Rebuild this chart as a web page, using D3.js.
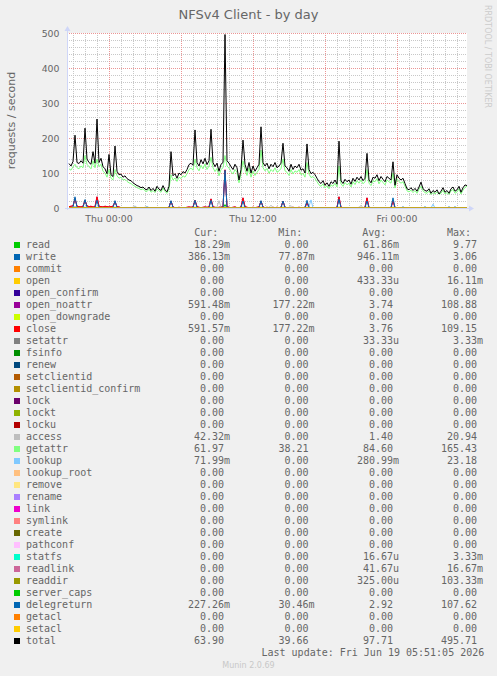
<!DOCTYPE html>
<html>
<head>
<meta charset="utf-8">
<script src="https://cdn.jsdelivr.net/npm/d3@7"></script>
<style>
  body { margin: 0; background: #f0f0f0; }
  svg { display: block; }
  text { font-family: "DejaVu Sans", sans-serif; fill: #666; }
  .mono { font-family: "DejaVu Sans Mono", monospace; font-size: 10px; }
</style>
</head>
<body>
<script>
// samples every 10 minutes, last one at Fri 05:50
const lastSample = new Date(2026, 5, 19, 5, 50);
const stepMinutes = 10;

const total = [
  127, 120, 133, 208, 130, 127, 135, 128, 228, 140, 130, 125, 161, 128, 254, 130, 142, 118, 112, 98,
  153, 95, 90, 177, 105, 95, 97, 88, 92, 84, 80, 78, 72, 68, 64, 62, 58, 60, 54, 52,
  60, 50, 56, 48, 62, 54, 50, 64, 52, 46, 62, 161, 92, 98, 85, 100, 95, 104, 100, 110,
  124, 128, 122, 223, 130, 120, 138, 126, 142, 124, 135, 225, 130, 118, 128, 105, 125, 130, 495.71, 135,
  128, 118, 110, 125, 115, 80, 110, 194, 125, 105, 130, 100, 120, 105, 115, 125, 232, 130, 120, 128,
  112, 125, 118, 130, 115, 120, 128, 185, 120, 115, 105, 125, 110, 120, 115, 125, 108, 112, 100, 183,
  110, 98, 102, 95, 85, 75, 70, 78, 65, 72, 62, 75, 70, 80, 68, 191, 78, 70, 82, 75,
  80, 68, 85, 76, 88, 80, 90, 78, 85, 156, 80, 72, 88, 85, 95, 78, 90, 82, 75, 90,
  85, 80, 132, 65, 95, 85, 80, 85, 70, 55, 52, 58, 50, 56, 48, 60, 74, 55, 50, 48,
  55, 42, 50, 45, 52, 40, 48, 58, 45, 50, 42, 55, 60, 48, 52, 62, 45, 58, 66, 63.9
];

const getattr = [
  112, 108, 118, 125, 115, 112, 120, 115, 150, 125, 118, 112, 135, 115, 140, 118, 125, 105, 100, 88,
  110, 85, 80, 110, 92, 85, 88, 80, 82, 76, 72, 70, 65, 62, 58, 56, 52, 55, 49, 47,
  54, 45, 50, 44, 55, 49, 45, 57, 47, 42, 55, 95, 80, 86, 76, 88, 84, 92, 88, 98,
  110, 114, 108, 140, 115, 106, 122, 112, 126, 110, 120, 145, 115, 104, 113, 92, 110, 115, 150, 120,
  114, 104, 97, 110, 102, 72, 98, 135, 110, 93, 115, 88, 106, 93, 102, 110, 165.43, 115, 106, 113,
  99, 110, 104, 115, 102, 106, 113, 140, 106, 102, 93, 110, 97, 106, 102, 110, 95, 99, 88, 130,
  97, 87, 90, 84, 75, 66, 62, 69, 57, 64, 55, 66, 62, 71, 60, 120, 69, 62, 73, 66,
  71, 60, 75, 67, 78, 71, 80, 69, 75, 110, 71, 64, 78, 75, 84, 69, 80, 73, 66, 80,
  75, 71, 100, 57, 84, 75, 71, 75, 62, 49, 46, 51, 44, 50, 42, 53, 62, 49, 44, 42,
  49, 38.21, 44, 40, 46, 39, 42, 51, 40, 44, 39, 49, 53, 42, 46, 55, 40, 51, 59, 61.97
];

const close = [
  4, 5, 6, 27, 5, 4, 3, 5, 22, 6, 4, 5, 3, 4, 32, 5, 4, 3, 5, 4,
  3, 4, 5, 18, 4, 3, 1, 1, 1, 1, 1, 1, 0.5, 0.5, 0.5, 0.5, 0.5, 0.5, 0.5, 0.5,
  0.5, 0.5, 0.5, 0.5, 0.5, 0.5, 0.5, 0.5, 1, 1, 2, 20, 3, 1, 1, 2, 1, 1, 1, 2,
  3, 2, 3, 22, 4, 2, 1, 2, 3, 2, 3, 26, 3, 2, 1, 2, 3, 4, 109.15, 4,
  2, 1, 2, 3, 1, 1, 3, 29, 4, 2, 1, 1, 2, 1, 2, 3, 20, 3, 1, 2,
  1, 1, 2, 1, 2, 1, 2, 20, 2, 1, 1, 1, 2, 1, 1, 2, 1, 1, 2, 15,
  2, 1, 1, 1, 0.5, 0.5, 0.5, 0.5, 0.5, 0.5, 0.5, 0.5, 1, 1, 2, 32, 2, 1, 0.5, 0.5,
  0.5, 0.5, 0.5, 0.5, 0.5, 0.5, 0.5, 1, 2, 29, 1, 0.5, 0.5, 0.5, 0.5, 0.5, 0.5, 0.5, 0.5, 0.5,
  1, 1, 20, 1, 0.5, 0.5, 0.5, 0.5, 0.5, 0.2, 0.2, 0.2, 0.2, 0.2, 0.2, 0.2, 0.2, 0.2, 0.2, 0.2,
  0.2, 0.2, 0.2, 0.2, 0.2, 0.2, 0.2, 0.2, 0.2, 0.2, 0.2, 0.2, 0.2, 0.2, 0.2, 0.2, 0.2, 0.2, 0.2, 0.59
];

const openNoattr = [
  4, 5, 6, 27, 5, 4, 3, 5, 22, 6, 4, 5, 3, 4, 32, 5, 4, 3, 5, 4,
  3, 4, 5, 18, 4, 3, 1, 1, 1, 1, 1, 1, 0.5, 0.5, 0.5, 0.5, 0.5, 0.5, 0.5, 0.5,
  0.5, 0.5, 0.5, 0.5, 0.5, 0.5, 0.5, 0.5, 1, 1, 2, 20, 3, 1, 1, 2, 1, 1, 1, 2,
  3, 2, 3, 22, 4, 2, 1, 2, 3, 2, 3, 26, 3, 2, 1, 2, 3, 4, 108.88, 4,
  2, 1, 2, 3, 1, 1, 3, 29, 4, 2, 1, 1, 2, 1, 2, 3, 20, 3, 1, 2,
  1, 1, 2, 1, 2, 1, 2, 20, 2, 1, 1, 1, 2, 1, 1, 2, 1, 1, 2, 15,
  2, 1, 1, 1, 0.5, 0.5, 0.5, 0.5, 0.5, 0.5, 0.5, 0.5, 1, 1, 2, 32, 2, 1, 0.5, 0.5,
  0.5, 0.5, 0.5, 0.5, 0.5, 0.5, 0.5, 1, 2, 29, 1, 0.5, 0.5, 0.5, 0.5, 0.5, 0.5, 0.5, 0.5, 0.5,
  1, 1, 20, 1, 0.5, 0.5, 0.5, 0.5, 0.5, 0.2, 0.2, 0.2, 0.2, 0.2, 0.2, 0.2, 0.2, 0.2, 0.2, 0.2,
  0.2, 0.2, 0.2, 0.2, 0.2, 0.2, 0.2, 0.2, 0.2, 0.2, 0.2, 0.2, 0.2, 0.2, 0.2, 0.2, 0.2, 0.2, 0.2, 0.59
];

const delegreturn = [
  1, 1, 2, 32, 2, 1, 1, 1, 24, 2, 1, 1, 1, 1, 22, 1, 1, 1, 1, 1,
  1, 1, 1, 21, 1, 1, 1, 1, 1, 1, 1, 1, 1, 1, 1, 1, 1, 1, 1, 1,
  1, 1, 1, 1, 1, 1, 1, 1, 1, 1, 1, 21, 1, 1, 1, 1, 1, 1, 1, 1,
  1, 1, 1, 22, 1, 1, 1, 1, 1, 1, 1, 22, 1, 1, 1, 1, 1, 1, 107.62, 2,
  1, 1, 1, 1, 1, 1, 1, 20, 1, 1, 1, 1, 1, 1, 1, 1, 21, 1, 1, 1,
  1, 1, 1, 1, 1, 1, 1, 20, 1, 1, 1, 1, 1, 1, 1, 1, 1, 1, 1, 22,
  1, 1, 1, 1, 1, 1, 1, 1, 1, 1, 1, 1, 1, 1, 1, 25, 1, 1, 1, 1,
  1, 1, 1, 1, 1, 1, 1, 1, 1, 20, 1, 1, 1, 1, 1, 1, 1, 1, 1, 1,
  1, 1, 29, 1, 0.5, 0.5, 0.5, 3, 0.5, 0.5, 0.5, 0.5, 0.5, 0.5, 0.5, 0.5, 0.5, 0.5, 3, 0.5,
  0.5, 0.5, 0.5, 0.5, 0.5, 0.5, 0.5, 0.5, 0.5, 0.5, 3, 0.5, 0.5, 3, 0.5, 0.5, 0.5, 0.5, 0.5, 0.23
];

const write = [
  1, 1, 1, 3, 1, 1, 1, 1, 2, 1, 1, 1, 1, 1, 2, 1, 1, 1, 1, 1,
  1, 1, 1, 2, 1, 1, 1, 1, 1, 1, 1, 1, 1, 1, 1, 1, 1, 1, 1, 1,
  1, 1, 1, 1, 1, 1, 1, 1, 1, 1, 1, 2, 1, 1, 1, 1, 1, 1, 1, 1,
  1, 1, 1, 2, 1, 1, 1, 1, 1, 1, 1, 2, 1, 1, 1, 1, 1, 1, 3.06, 1,
  1, 1, 1, 1, 1, 1, 1, 2, 1, 1, 1, 1, 1, 1, 1, 1, 2, 1, 1, 1,
  1, 1, 1, 1, 1, 1, 1, 2, 1, 1, 1, 1, 1, 1, 1, 1, 1, 1, 1, 2,
  1, 1, 1, 1, 1, 1, 1, 1, 1, 1, 1, 1, 1, 1, 1, 2, 1, 1, 1, 1,
  1, 1, 1, 1, 1, 1, 1, 1, 1, 2, 1, 1, 1, 1, 1, 1, 1, 1, 1, 1,
  1, 1, 2, 1, 0.5, 0.5, 0.5, 0.5, 0.5, 0.5, 0.5, 0.5, 0.5, 0.5, 0.5, 0.5, 0.5, 0.5, 0.5, 0.5,
  0.5, 0.5, 0.5, 0.5, 0.5, 0.5, 0.5, 0.5, 0.5, 0.5, 0.5, 0.5, 0.5, 0.5, 0.5, 0.5, 0.5, 0.5, 0.5, 0.39
];

const access = [
  1, 1, 2, 3, 1, 1, 1, 1, 2, 1, 1, 1, 1, 1, 2, 1, 1, 1, 1, 1,
  1, 1, 1, 2, 1, 1, 1, 1, 1, 1, 1, 1, 2, 6, 1, 1, 1, 1, 2, 5,
  1, 1, 1, 1, 1, 1, 1, 1, 1, 1, 1, 2, 1, 1, 1, 1, 1, 1, 1, 1,
  1, 1, 1, 2, 1, 1, 1, 1, 1, 1, 1, 2, 1, 1, 3, 20.94, 2, 1, 3, 1,
  1, 1, 1, 1, 1, 1, 1, 2, 1, 1, 1, 1, 1, 1, 1, 1, 2, 1, 1, 1,
  2, 8, 1, 1, 1, 1, 1, 2, 1, 1, 2, 7, 1, 1, 1, 1, 1, 1, 1, 2,
  1, 1, 1, 1, 1, 1, 1, 1, 1, 1, 1, 1, 1, 1, 1, 2, 1, 1, 1, 1,
  1, 1, 1, 1, 1, 2, 7, 1, 1, 2, 1, 1, 1, 1, 1, 1, 1, 1, 1, 1,
  1, 1, 2, 1, 0.5, 0.5, 0.5, 0.5, 0.5, 0.5, 0.5, 0.5, 0.5, 0.5, 0.5, 0.5, 0.5, 0.5, 0.5, 0.5,
  0.5, 0.5, 0.5, 0.5, 0.5, 0.5, 0.5, 0.5, 0.5, 0.5, 0.5, 0.5, 0.5, 0.5, 0.5, 0.5, 0.5, 0.5, 0.5, 0.04
];

const lookup = [
  0, 0, 0, 0, 0, 0, 0, 0, 0, 0, 0, 0, 0, 0, 0, 0, 0, 0, 0, 0,
  0, 0, 0, 0, 0, 0, 0, 0, 0, 0, 0, 0, 0, 3, 0, 0, 0, 0, 0, 4,
  0, 0, 0, 0, 0, 0, 0, 0, 0, 0, 0, 0, 0, 0, 0, 0, 0, 0, 0, 0,
  0, 0, 0, 0, 0, 0, 0, 0, 0, 0, 0, 0, 0, 0, 0, 0, 0, 0, 0, 0,
  0, 0, 0, 0, 0, 0, 0, 0, 0, 0, 0, 0, 0, 0, 0, 0, 0, 0, 0, 0,
  0, 0, 0, 0, 0, 0, 0, 0, 0, 0, 0, 0, 0, 0, 0, 0, 0, 0, 0, 0,
  4, 23.18, 0, 0, 0, 0, 0, 0, 0, 0, 0, 0, 0, 0, 0, 0, 0, 0, 0, 0,
  0, 0, 0, 0, 0, 0, 0, 0, 0, 0, 0, 0, 0, 0, 0, 0, 0, 0, 0, 0,
  0, 0, 0, 0, 0, 0, 0, 0, 0, 0, 0, 0, 0, 0, 0, 0, 0, 0, 0, 0,
  0, 0, 11, 0, 0, 0, 0, 0, 0, 0, 0, 0, 0, 0, 0, 0, 0, 0, 0, 0.07
];

const read = [
  0, 0, 0, 0, 0, 0, 0, 0, 0, 0, 0, 0, 0, 0, 0, 0, 0, 0, 0, 0,
  0, 0, 0, 0, 0, 0, 0, 0, 0, 0, 0, 0, 0, 0, 0, 0, 0, 0, 0, 0,
  0, 0, 0, 0, 0, 0, 0, 0, 0, 0, 0, 0, 0, 0, 0, 0, 0, 0, 0, 0,
  0, 0, 0, 0, 0, 0, 0, 0, 0, 0, 0, 0, 0, 0, 0, 0, 0, 0, 9.77, 0,
  0, 0, 0, 0, 0, 0, 0, 0, 0, 0, 0, 0, 0, 0, 0, 0, 0, 0, 0, 0,
  0, 0, 0, 0, 0, 0, 0, 0, 0, 0, 0, 0, 0, 0, 0, 0, 0, 0, 0, 0,
  0, 0, 0, 0, 0, 0, 0, 0, 0, 0, 0, 0, 0, 0, 0, 0, 0, 0, 0, 0,
  0, 0, 0, 0, 0, 0, 0, 0, 0, 0, 0, 0, 0, 0, 0, 0, 0, 0, 0, 0,
  0, 0, 0, 0, 0, 0, 0, 0, 0, 0, 0, 0, 0, 0, 0, 0, 0, 0, 0, 0,
  0, 0, 0, 0, 0, 0, 0, 0, 0, 0, 0, 0, 0, 0, 0, 0, 0, 0, 0, 0.02
];

// series that stay at 0 for the whole window: value at first and last sample
const flatZero = [0, 0];

const names = [
  "read", "write", "commit", "open", "open_confirm", "open_noattr", "open_downgrade", "close",
  "setattr", "fsinfo", "renew", "setclientid", "setclientid_confirm", "lock", "lockt", "locku",
  "access", "getattr", "lookup", "lookup_root", "remove", "rename", "link", "symlink", "create",
  "pathconf", "statfs", "readlink", "readdir", "server_caps", "delegreturn", "getacl", "setacl", "total"
];

const colors = [
  "#00CC00", "#0066B3", "#FF8000", "#FFCC00", "#330099", "#990099", "#CCFF00", "#FF0000",
  "#808080", "#008F00", "#00487D", "#B35A00", "#B38F00", "#6B006B", "#8FB300", "#B30000",
  "#BEBEBE", "#80FF80", "#80C9FF", "#FFC080", "#FFE680", "#AA80FF", "#EE00CC", "#FF8080", "#666600",
  "#FFBFFF", "#00FFCC", "#CC6699", "#999900", "#00CC00", "#0066B3", "#FF8000", "#FFCC00", "#000000"
];

const curText = [
  "18.29m", "386.13m", "0.00", "0.00", "0.00", "591.48m", "0.00", "591.57m",
  "0.00", "0.00", "0.00", "0.00", "0.00", "0.00", "0.00", "0.00",
  "42.32m", "61.97", "71.99m", "0.00", "0.00", "0.00", "0.00", "0.00", "0.00",
  "0.00", "0.00", "0.00", "0.00", "0.00", "227.26m", "0.00", "0.00", "63.90"
];
const minText = [
  "0.00", "77.87m", "0.00", "0.00", "0.00", "177.22m", "0.00", "177.22m",
  "0.00", "0.00", "0.00", "0.00", "0.00", "0.00", "0.00", "0.00",
  "0.00", "38.21", "0.00", "0.00", "0.00", "0.00", "0.00", "0.00", "0.00",
  "0.00", "0.00", "0.00", "0.00", "0.00", "30.46m", "0.00", "0.00", "39.66"
];
const avgText = [
  "61.86m", "946.11m", "0.00", "433.33u", "0.00", "3.74", "0.00", "3.76",
  "33.33u", "0.00", "0.00", "0.00", "0.00", "0.00", "0.00", "0.00",
  "1.40", "84.60", "280.99m", "0.00", "0.00", "0.00", "0.00", "0.00", "0.00",
  "0.00", "16.67u", "41.67u", "325.00u", "0.00", "2.92", "0.00", "0.00", "97.71"
];
const maxText = [
  "9.77", "3.06", "0.00", "16.11m", "0.00", "108.88", "0.00", "109.15",
  "3.33m", "0.00", "0.00", "0.00", "0.00", "0.00", "0.00", "0.00",
  "20.94", "165.43", "23.18", "0.00", "0.00", "0.00", "0.00", "0.00", "0.00",
  "0.00", "3.33m", "16.67m", "103.33m", "0.00", "107.62", "0.00", "0.00", "495.71"
];

const seriesData = {
  read, write, open_noattr: openNoattr, close, access, getattr, lookup, delegreturn, total
};

// =============================================================================

const width = 497,
      height = 676;

const plot = { left: 67, right: 467, top: 33, bottom: 208 };

const windowEnd = lastSample,
      windowStart = d3.timeMinute.offset(windowEnd, -2000);

const x = d3.scaleTime()
    .domain([windowStart, windowEnd])
    .range([plot.left, plot.right]);

const y = d3.scaleLinear()
    .domain([0, 500])
    .range([plot.bottom, plot.top]);

const sampleTime = (i, n) => d3.timeMinute.offset(lastSample, -(n - 1 - i) * stepMinutes);

const svg = d3.select("body").append("svg")
    .attr("width", width)
    .attr("height", height);

svg.append("rect")
    .attr("width", width)
    .attr("height", height)
    .attr("fill", "#f0f0f0");

svg.append("rect")
    .attr("x", plot.left)
    .attr("y", plot.top)
    .attr("width", plot.right - plot.left)
    .attr("height", plot.bottom - plot.top)
    .attr("fill", "#ffffff");

// grid
const minorY = d3.range(0, 501, 20).filter(v => v % 100 !== 0);
const majorY = d3.range(0, 501, 100);
const minorX = x.ticks(d3.timeHour.every(1)).filter(d => d.getHours() % 6 !== 0);
const majorX = x.ticks(d3.timeHour.every(6));

const grid = svg.append("g").attr("shape-rendering", "crispEdges");

grid.selectAll(".minor-y").data(minorY).join("line")
    .attr("x1", plot.left).attr("x2", plot.right)
    .attr("y1", d => Math.round(y(d)) + 0.5).attr("y2", d => Math.round(y(d)) + 0.5)
    .attr("stroke", "#c8c8c8").attr("stroke-dasharray", "1,1");

grid.selectAll(".minor-x").data(minorX).join("line")
    .attr("x1", d => Math.round(x(d)) + 0.5).attr("x2", d => Math.round(x(d)) + 0.5)
    .attr("y1", plot.top).attr("y2", plot.bottom)
    .attr("stroke", "#c8c8c8").attr("stroke-dasharray", "1,1");

grid.selectAll(".major-y").data(majorY).join("line")
    .attr("x1", plot.left).attr("x2", plot.right)
    .attr("y1", d => Math.round(y(d)) + 0.5).attr("y2", d => Math.round(y(d)) + 0.5)
    .attr("stroke", "#eb9595").attr("stroke-dasharray", "1,1");

grid.selectAll(".major-x").data(majorX).join("line")
    .attr("x1", d => Math.round(x(d)) + 0.5).attr("x2", d => Math.round(x(d)) + 0.5)
    .attr("y1", plot.top).attr("y2", plot.bottom)
    .attr("stroke", "#eb9595").attr("stroke-dasharray", "1,1");

// series lines, drawn in legend order
const line = d3.line()
    .x(d => x(d.t))
    .y(d => y(d.v));

names.forEach((name, k) => {
  const values = seriesData[name];
  const pts = values
    ? values.map((v, i) => ({ t: sampleTime(i, values.length), v }))
    : flatZero.map((v, i) => ({ t: i === 0 ? sampleTime(0, total.length) : lastSample, v }));
  svg.append("path")
      .datum(pts)
      .attr("fill", "none")
      .attr("stroke", colors[k])
      .attr("stroke-width", 1)
      .attr("d", line);
});

// axes with arrows
const axisColor = "#CFD6F8";

svg.append("line")
    .attr("x1", plot.left + 0.5).attr("x2", plot.left + 0.5)
    .attr("y1", plot.bottom + 2).attr("y2", plot.top - 3)
    .attr("stroke", axisColor);

svg.append("path")
    .attr("d", `M${plot.left - 2.5},${plot.top - 2} L${plot.left + 0.5},${plot.top - 7} L${plot.left + 3.5},${plot.top - 2} Z`)
    .attr("fill", axisColor);

svg.append("line")
    .attr("x1", plot.left - 2).attr("x2", plot.right + 3)
    .attr("y1", plot.bottom + 0.5).attr("y2", plot.bottom + 0.5)
    .attr("stroke", axisColor);

svg.append("path")
    .attr("d", `M${plot.right + 2},${plot.bottom - 2.5} L${plot.right + 7},${plot.bottom + 0.5} L${plot.right + 2},${plot.bottom + 3.5} Z`)
    .attr("fill", axisColor);

// tick labels
svg.append("g").selectAll("text")
  .data(majorY)
  .join("text")
    .attr("x", 59.5)
    .attr("y", d => y(d) + 3.5)
    .attr("text-anchor", "end")
    .attr("font-size", "9.33px")
    .text(d => d);

const timeFormat = d3.timeFormat("%a %H:%M");

svg.append("g").selectAll("text")
  .data(x.ticks(d3.timeHour.every(12)))
  .join("text")
    .attr("x", d => x(d))
    .attr("y", 221.5)
    .attr("text-anchor", "middle")
    .attr("font-size", "9.33px")
    .text(d => timeFormat(d));

// titles
svg.append("text")
    .attr("x", 248.5)
    .attr("y", 18.5)
    .attr("text-anchor", "middle")
    .attr("font-size", "13px")
    .text("NFSv4 Client - by day");

svg.append("text")
    .attr("transform", `translate(15,${(plot.top + plot.bottom) / 2}) rotate(-90)`)
    .attr("text-anchor", "middle")
    .attr("font-size", "11px")
    .text("requests / second");

svg.append("text")
    .attr("transform", "translate(485,5) rotate(90)")
    .attr("font-size", "8px")
    .attr("fill", "#cccccc")
    .style("fill", "#cccccc")
    .text("RRDTOOL / TOBI OETIKER");

// legend
const legendTop = 248,
      rowStep = 12;

const header = svg.append("g").attr("class", "mono");
[["Cur:", 194.3], ["Min:", 278.3], ["Avg:", 362.3], ["Max:", 447]].forEach(([label, hx]) => {
  header.append("text")
      .attr("class", "mono")
      .attr("x", hx)
      .attr("y", 236)
      .text(label);
});

const columns = [
  { text: curText, right: 224 },
  { text: minText, right: 308.5 },
  { text: avgText, right: 393 },
  { text: maxText, right: 477 }
];

const rows = svg.append("g").selectAll("g")
  .data(names)
  .join("g")
    .attr("transform", (d, i) => `translate(0,${legendTop + i * rowStep})`);

rows.append("rect")
    .attr("x", 14)
    .attr("y", -6)
    .attr("width", 6)
    .attr("height", 6)
    .attr("fill", (d, i) => colors[i]);

rows.append("text")
    .attr("class", "mono")
    .attr("x", 26)
    .text(d => d);

columns.forEach(col => {
  rows.append("text")
      .attr("class", "mono")
      .attr("x", col.right)
      .attr("text-anchor", "end")
      .text((d, i) => col.text[i].replace(/[mu]$/, ""));
  rows.append("text")
      .attr("class", "mono")
      .attr("x", col.right)
      .text((d, i) => (col.text[i].match(/[mu]$/) || [""])[0]);
});

svg.append("text")
    .attr("class", "mono")
    .attr("x", 261.5)
    .attr("y", 656)
    .text("Last update: Fri Jun 19 05:51:05 2026");

svg.append("text")
    .attr("x", 248.5)
    .attr("y", 668)
    .attr("text-anchor", "middle")
    .attr("font-size", "8px")
    .style("fill", "#c8c8c8")
    .text("Munin 2.0.69");
</script>
</body>
</html>
